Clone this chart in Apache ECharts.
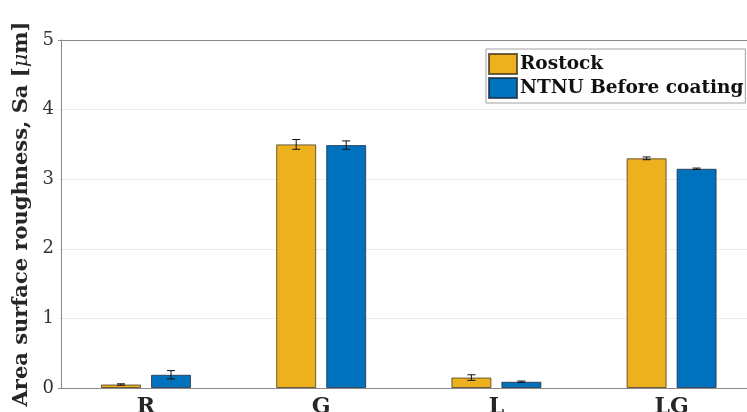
<!DOCTYPE html>
<html>
<head>
<meta charset="utf-8">
<script src="https://cdn.jsdelivr.net/npm/echarts@6/dist/echarts.min.js"></script>
<style>
  html, body { margin: 0; padding: 0; background: #fff; }
  #chart { width: 747px; height: 412px; }
</style>
</head>
<body>
<div id="chart"></div>
<script>
// Surface roughness per specimen type, two measurement sources
const categories = ['R', 'G', 'L', 'LG'];
const rostock = [0.05, 3.50, 0.15, 3.30];
const rostockErr = [0.01, 0.07, 0.04, 0.02];
const ntnu = [0.19, 3.49, 0.09, 3.15];
const ntnuErr = [0.06, 0.06, 0.01, 0.01];
const seriesNames = ['Rostock', 'NTNU Before coating'];
const yMin = 0, yMax = 5, yStep = 1;

const SERIF = '"DejaVu Serif", "Liberation Serif", serif';
const BAR_W = 40;
const BAR_OFF = 25;

function errorBars(values, errs, offset) {
  return {
    type: 'custom',
    silent: true,
    z: 5,
    data: values.map((v, i) => [i, v, errs[i]]),
    renderItem: function (params, api) {
      const idx = api.value(0), v = api.value(1), e = api.value(2);
      const c = api.coord([idx, v]);
      const x = c[0] + offset;
      const top = api.coord([idx, v + e])[1];
      const bot = api.coord([idx, v - e])[1];
      const cap = 4;
      const st = { stroke: '#111', lineWidth: 1 };
      return {
        type: 'group',
        children: [
          { type: 'line', shape: { x1: x, y1: top, x2: x, y2: bot }, style: st },
          { type: 'line', shape: { x1: x - cap, y1: top, x2: x + cap, y2: top }, style: st },
          { type: 'line', shape: { x1: x - cap, y1: bot, x2: x + cap, y2: bot }, style: st }
        ]
      };
    }
  };
}

const chart = echarts.init(document.getElementById('chart'), null, { renderer: 'canvas' });
chart.setOption({
  animation: false,
  backgroundColor: '#fff',
  grid: { left: 58.4, top: 40, width: 700.8, height: 348, containLabel: false, outerBoundsMode: 'none' },
  legend: {
    data: seriesNames,
    orient: 'vertical',
    left: 486,
    top: 49,
    itemWidth: 28,
    itemHeight: 20,
    itemGap: 2,
    padding: [4, 2, 4, 2],
    backgroundColor: '#fff',
    borderColor: '#a0a0a0',
    borderWidth: 1,
    icon: 'rect',
    textStyle: { fontFamily: SERIF, fontWeight: 'bold', fontSize: 18.5, color: '#111', padding: [0, 0, 0, -2] }
  },
  xAxis: [
    {
      type: 'category',
      data: categories,
      position: 'bottom',
      axisLine: { lineStyle: { color: '#8a8a8a', width: 1 } },
      axisTick: { show: false },
      axisLabel: { fontFamily: SERIF, fontWeight: 'bold', fontSize: 22, color: '#262626', margin: 8 }
    },
    {
      type: 'category',
      data: categories,
      position: 'top',
      axisLine: { lineStyle: { color: '#8a8a8a', width: 1 } },
      axisTick: { show: false },
      axisLabel: { show: false }
    }
  ],
  yAxis: {
    type: 'value',
    min: yMin,
    max: yMax,
    interval: yStep,
    offset: -2.6,
    name: '{b|Area surface roughness, Sa [}{i|μ}{b|m]}',
    nameLocation: 'middle',
    nameGap: 28,
    nameTextStyle: {
      rich: {
        b: { fontFamily: SERIF, fontWeight: 'bold', fontSize: 21, color: '#262626' },
        i: { fontFamily: SERIF, fontStyle: 'italic', fontSize: 21, color: '#262626' }
      }
    },
    axisLine: { show: true, lineStyle: { color: '#8a8a8a', width: 1 } },
    axisTick: { show: false },
    splitLine: { show: true, lineStyle: { color: '#ececec', width: 1 } },
    axisLabel: { fontFamily: SERIF, fontSize: 18, color: '#333', margin: 7 }
  },
  series: [
    {
      name: seriesNames[0],
      type: 'bar',
      data: rostock,
      barWidth: BAR_W,
      barGap: '25%',
      itemStyle: { color: '#EDB120', borderColor: 'rgba(60,50,30,0.75)', borderWidth: 1 }
    },
    {
      name: seriesNames[1],
      type: 'bar',
      data: ntnu,
      barWidth: BAR_W,
      itemStyle: { color: '#0072BD', borderColor: 'rgba(30,40,60,0.75)', borderWidth: 1 }
    },
    errorBars(rostock, rostockErr, -BAR_OFF),
    errorBars(ntnu, ntnuErr, BAR_OFF)
  ]
});
</script>
</body>
</html>
